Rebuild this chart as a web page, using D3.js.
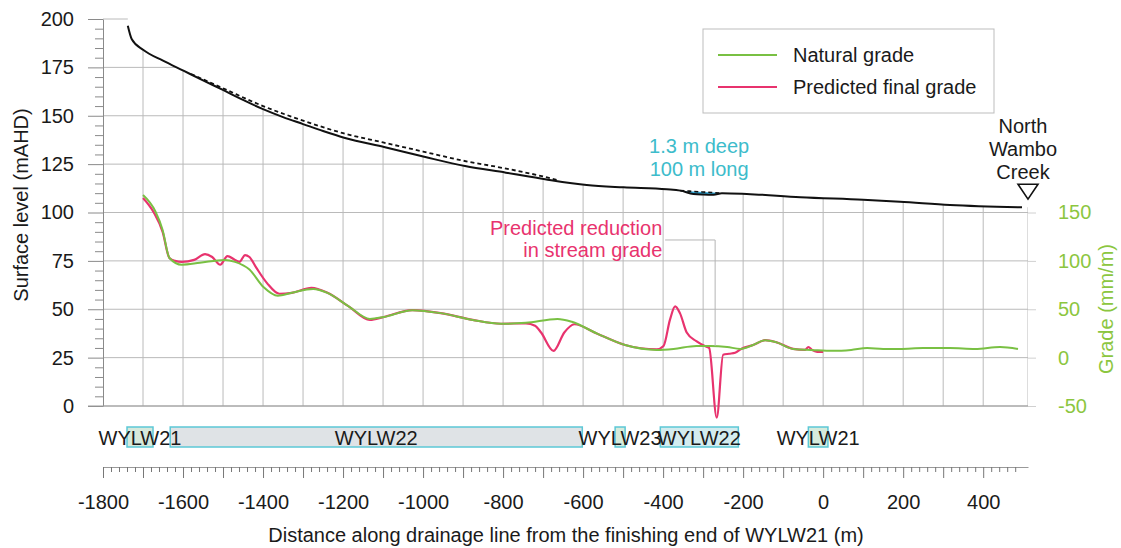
<!DOCTYPE html>
<html>
<head>
<meta charset="utf-8">
<style>
  body { margin: 0; background: #fff; }
  svg text { font-family: "Liberation Sans", Arial, sans-serif; }
</style>
</head>
<body>
<div id="container"></div>
<script src="https://d3js.org/d3.v7.min.js"></script>
<script>
// surface profile along the drainage line (m, mAHD)
var surfM = [-1738,-1728,-1699,-1650,-1599,-1550,-1499,-1450,-1400,-1350,-1300,-1250,-1195,-1095,-997,-895,-793,-695,-591,-499,-391,-357,-324,-300,-274,-253,-191,-57,100,192,317,497];
var surfZ = [196.5,189.5,184,178.5,173.3,168.3,163.2,158.2,153.4,149.3,145.7,142.1,138.5,133.7,128.8,124,120.6,117.2,114.2,113,112,111.3,109.6,109.3,109.2,110,109.6,107.9,106.6,105.6,103.9,102.7];

// natural surface where it sits above the final surface (dashed)
var dashM = [-1580,-1500,-1400,-1300,-1200,-1100,-1000,-900,-800,-700,-660];
var dashZ = [171.6,164.2,155.0,147.5,141.0,136.2,131.5,126.8,123.0,118.6,116.5];

// subsidence pond: 1.3 m deep, 100 m long
var pondM   = [-357,-324,-300,-274,-253];
var pondTop = [111.3,110.9,110.6,110.3,110.0];
var pondBed = [111.3,109.6,109.3,109.2,110.0];

// stream grade (mm/m)
var natM = [-1700,-1669,-1651,-1634,-1603,-1558,-1496,-1470,-1434,-1399,-1363,-1328,-1275,-1239,-1186,-1133,-1098,-1027,-956,-876,-805,-743,-664,-628,-566,-495,-416,-374,-317,-282,-240,-207,-175,-145,-118,-75,-30,25,70,110,150,192,250,317,380,442,487];
var natG = [168,151,132,103,96,98,101,99,91,73,64,67,71,67,53,40,42,49,46,39,35,36,40,37,25,13,8,9,12,12,11,9,13,18,16,9,8,7,8,10,9,9,10,10,9,11,9];

var predM = [-1700,-1673,-1651,-1634,-1620,-1603,-1572,-1545,-1527,-1507,-1489,-1470,-1459,-1445,-1434,-1417,-1390,-1359,-1328,-1279,-1239,-1186,-1133,-1098,-1027,-956,-876,-805,-743,-720,-705,-674,-647,-622,-566,-495,-416,-399,-383,-370,-358,-341,-317,-296,-285,-266,-250,-235,-220,-205,-175,-145,-118,-75,-45,-37,-28,-15,0];
var predG = [165,150,130,103,100,99,101,107,104,96,105,101,99,106,104,93,77,66,67,72,67,53,39,42,49,46,39,35,35.5,33,26,7,26,34.5,25,13,8.5,12,39,53,46,26,17,12,10,-62,3,4,5,9,13,18,16,9,8,11,8,6,6];

// longwall panels under the line
var segNames = ["WYLW21","WYLW22","WYLW23","WYLW22","WYLW21"];
var segStart = [-1740,-1632,-520,-407,-37];
var segEnd   = [-1675,-602,-495,-212,12];
var segFill  = ["#d6e9dc","#dfe3e6","#d6ebdc","#d3ecef","#d6ebdc"];

// ticks
var levelTicks = [0,25,50,75,100,125,150,175,200];
var gradeTicks = [-50,0,50,100,150];
var distMajor = d3.range(-1800, 401, 100);
var distMinor = d3.range(-1800, 511, 20).filter(function(d){ return d % 100 !== 0; });

var green = "#79c043", pink = "#e8336e", cyan = "#3dbccb", grid = "#bababa";

var svg = d3.select("#container").append("svg")
  .attr("width", 1121).attr("height", 548);

var x = d3.scaleLinear().domain([-1800, 512]).range([103, 1028]);
var y = d3.scaleLinear().domain([0, 200]).range([406, 19]);
var yG = d3.scaleLinear().domain([-50, 350]).range([406, 19]);

function zip(a, b) { return a.map(function(d, i){ return {m: d, v: b[i]}; }); }
var surf = zip(surfM, surfZ);
var dash = zip(dashM, dashZ);
var nat = zip(natM, natG);
var pred = zip(predM, predG);
var pond = pondM.map(function(d, i){ return {m: d, t: pondTop[i], b: pondBed[i]}; });

// grid only shows below the ground surface
var defs = svg.append("defs");
var clip = defs.append("clipPath").attr("id", "below");
clip.append("rect").attr("x", 0).attr("y", 0).attr("width", x(surfM[0])).attr("height", 548);
var clipPts = surf.concat([{m: x.domain()[1], v: surfZ[surfZ.length - 1]}]);
clip.append("path")
  .attr("d", d3.area().x(function(d){ return x(d.m); }).y0(y(0) + 1)
    .y1(function(d){ return y(d.v); }).curve(d3.curveMonotoneX)(clipPts));

var gridG = svg.append("g").attr("clip-path", "url(#below)")
  .attr("stroke", grid).attr("stroke-width", 1);
gridG.selectAll("line.h").data(levelTicks).enter().append("line")
  .attr("x1", x.range()[0]).attr("x2", x.range()[1])
  .attr("y1", function(d){ return y(d); }).attr("y2", function(d){ return y(d); });
gridG.selectAll("line.v").data(distMajor.filter(function(d){ return d > -1800; }).concat([x.domain()[1]])).enter().append("line")
  .attr("x1", function(d){ return x(d); }).attr("x2", function(d){ return x(d); })
  .attr("y1", y(200)).attr("y2", y(0));

// left axis
var axL = svg.append("g").attr("transform", "translate(" + x.range()[0] + ",0)")
  .call(d3.axisLeft(y).tickValues(levelTicks).tickSize(15).tickSizeOuter(0).tickPadding(14).tickFormat(String));
var axLm = svg.append("g").attr("transform", "translate(" + x.range()[0] + ",0)")
  .call(d3.axisLeft(y).tickValues(d3.range(0, 201, 5).filter(function(d){ return d % 25 !== 0; })).tickSize(8).tickFormat(""));
axLm.select(".domain").remove();
[axL, axLm].forEach(function(a){
  a.selectAll("line").attr("stroke", "#8a8a8a");
  a.select(".domain").attr("stroke", "#8a8a8a");
});
axL.selectAll("text").attr("fill", "#1a1a1a").style("font-size", "20px");

// baseline of plot at 0 mAHD
svg.append("line").attr("x1", 88).attr("x2", x.range()[1])
  .attr("y1", y(0)).attr("y2", y(0)).attr("stroke", "#9a9a9a");

// right (grade) axis
var axR = svg.append("g").attr("transform", "translate(" + x.range()[1] + ",0)")
  .call(d3.axisRight(yG).tickValues(gradeTicks).tickSize(8).tickPadding(22).tickFormat(String));
axR.select(".domain").remove();
axR.selectAll("line").attr("stroke", "#d0d0d0");
axR.selectAll("text").attr("fill", "#8cc63f").style("font-size", "20px");

// grade lines
var gline = d3.line().x(function(d){ return x(d.m); }).y(function(d){ return yG(d.v); }).curve(d3.curveMonotoneX);
svg.append("path").datum(pred).attr("d", gline).attr("fill", "none")
  .attr("stroke", pink).attr("stroke-width", 2.2);
svg.append("path").datum(nat).attr("d", gline).attr("fill", "none")
  .attr("stroke", green).attr("stroke-width", 2);

// surface lines
var sline = d3.line().x(function(d){ return x(d.m); }).y(function(d){ return y(d.v); }).curve(d3.curveMonotoneX);
svg.append("path").datum(pond)
  .attr("d", d3.area().x(function(d){ return x(d.m); }).y0(function(d){ return y(d.t); })
    .y1(function(d){ return y(d.b); }).curve(d3.curveMonotoneX))
  .attr("fill", "#2fa6d6");
svg.append("path").datum(dash).attr("d", sline).attr("fill", "none")
  .attr("stroke", "#111").attr("stroke-width", 1.8).attr("stroke-dasharray", "4,3");
svg.append("path").datum(pond.map(function(d){ return {m: d.m, v: d.t}; })).attr("d", sline).attr("fill", "none")
  .attr("stroke", "#111").attr("stroke-width", 1.6).attr("stroke-dasharray", "4,3");
svg.append("path").datum(surf).attr("d", sline).attr("fill", "none")
  .attr("stroke", "#111").attr("stroke-width", 2);

// North Wambo Creek marker
var cx = x(x.domain()[1]), cy = y(110.5);
svg.append("path")
  .attr("d", "M" + (cx - 10) + "," + (cy - 8) + "L" + (cx + 10) + "," + (cy - 8) + "L" + cx + "," + (cy + 7) + "Z")
  .attr("fill", "#fff").attr("stroke", "#111").attr("stroke-width", 1.6);
svg.append("text").attr("text-anchor", "middle").attr("fill", "#1a1a1a").style("font-size", "20px")
  .selectAll("tspan").data(["North", "Wambo", "Creek"]).enter().append("tspan")
  .attr("x", cx - 5).attr("y", function(d, i){ return y(141) + i * 23; }).text(function(d){ return d; });

// annotations
svg.append("text").attr("text-anchor", "middle").attr("fill", cyan).style("font-size", "20px")
  .selectAll("tspan").data(["1.3 m deep", "100 m long"]).enter().append("tspan")
  .attr("x", x(-310)).attr("y", function(d, i){ return y(130.7) + i * 23; }).text(function(d){ return d; });

svg.append("text").attr("text-anchor", "end").attr("fill", pink).style("font-size", "20px")
  .selectAll("tspan").data(["Predicted reduction", "in stream grade"]).enter().append("tspan")
  .attr("x", x(-402)).attr("y", function(d, i){ return y(88.4) + i * 22; }).text(function(d){ return d; });
svg.append("path")
  .attr("d", d3.line()([[x(-395), y(85.8)], [x(-270), y(85.8)], [x(-270), y(31)]]))
  .attr("fill", "none").attr("stroke", "#b5b5b5").attr("stroke-width", 1);

// legend
var lg = svg.append("g").attr("transform", "translate(703,29)");
lg.append("rect").attr("width", 291).attr("height", 84).attr("fill", "#fff").attr("stroke", "#bdbdbd");
[["Natural grade", green], ["Predicted final grade", pink]].forEach(function(d, i){
  lg.append("line").attr("x1", 15).attr("x2", 74).attr("y1", 26 + i * 32).attr("y2", 26 + i * 32)
    .attr("stroke", d[1]).attr("stroke-width", 2);
  lg.append("text").attr("x", 90).attr("y", 33 + i * 32).attr("fill", "#1a1a1a")
    .style("font-size", "20px").text(d[0]);
});

// panels
var segs = svg.append("g");
segNames.forEach(function(n, i){
  segs.append("rect").attr("x", x(segStart[i])).attr("y", 427)
    .attr("width", x(segEnd[i]) - x(segStart[i])).attr("height", 20)
    .attr("fill", segFill[i]).attr("stroke", "#5cc8d6").attr("stroke-width", 1.5);
});
segNames.forEach(function(n, i){
  segs.append("text").attr("x", x((segStart[i] + segEnd[i]) / 2)).attr("y", 445)
    .attr("text-anchor", "middle").attr("fill", "#1a1a1a").style("font-size", "20px").text(n);
});

// distance axis
var axB = svg.append("g").attr("transform", "translate(0,467)")
  .call(d3.axisBottom(x).tickValues(distMajor).tickSize(11).tickSizeOuter(0).tickPadding(17)
    .tickFormat(function(d){ return d % 200 === 0 ? String(d) : ""; }));
var axBm = svg.append("g").attr("transform", "translate(0,467)")
  .call(d3.axisBottom(x).tickValues(distMinor).tickSize(5).tickFormat(""));
axBm.select(".domain").remove();
[axB, axBm].forEach(function(a){
  a.selectAll("line").attr("stroke", "#777");
  a.select(".domain").attr("stroke", "#999");
});
axB.selectAll("text").attr("fill", "#1a1a1a").style("font-size", "20px");

// axis titles
svg.append("text").attr("x", 566).attr("y", 542).attr("text-anchor", "middle")
  .attr("fill", "#1a1a1a").style("font-size", "20px")
  .text("Distance along drainage line from the finishing end of WYLW21 (m)");
svg.append("text").attr("transform", "translate(28,205) rotate(-90)").attr("text-anchor", "middle")
  .attr("fill", "#1a1a1a").style("font-size", "20px").text("Surface level (mAHD)");
svg.append("text").attr("transform", "translate(1113,309) rotate(-90)").attr("text-anchor", "middle")
  .attr("fill", "#8cc63f").style("font-size", "20px").text("Grade (mm/m)");
</script>
</body>
</html>
